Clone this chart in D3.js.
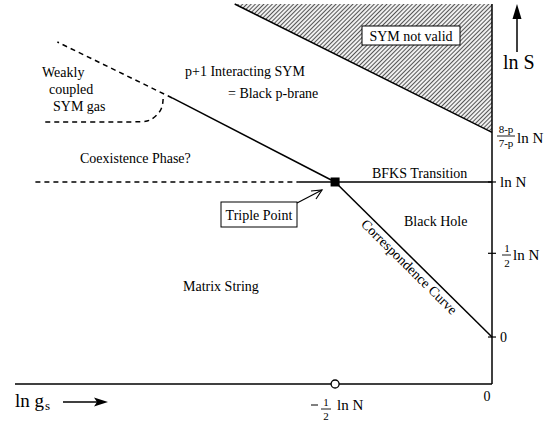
<!DOCTYPE html>
<html><head><meta charset="utf-8">
<script src="https://cdn.jsdelivr.net/npm/d3@7"></script>
<style>
body{margin:0;background:#fff;}
</style></head>
<body><svg id="c" width="559" height="422"></svg>
<script>
// ---- data (units of ln N) ----
const xDomain = [-1.52, 0];
const yDomain = [-0.303, 2.148];
const yTickValues = [0, 0.54, 1];           // 0, 1/2 ln N, ln N (as drawn)
const xTickValues = [-0.5, 0];              // -1/2 ln N, 0
const symBoundary = [[-0.82, 2.148], [0, 1.32]];         // edge of "SYM not valid"
const upperSolid = [[-0.5, 1], [-1.019, 1.542]];
const upperDashed = [[-1.019, 1.542], [-1.385, 1.903]];
const weakCurve = [[-1.048, 1.535], [-1.051, 1.46], [-1.09, 1.39], [-1.12, 1.387], [-1.424, 1.387]];
const bfksDashed = [[-1.455, 1], [-0.618, 1]];
const bfksSolid = [[-0.618, 1], [0, 1]];
const correspondence = [[-0.5, 1], [0, 0]];
const triplePoint = [-0.5, 1];
const regionLabels = ["p+1 Interacting SYM", "= Black p-brane", "Coexistence Phase?", "BFKS Transition", "Black Hole", "Matrix String"];
const weakLabel = ["Weakly", "coupled", "SYM gas"];

const FONT = '"Liberation Serif", "Times New Roman"';
const svg = d3.select("#c");
const x = d3.scaleLinear().domain(xDomain).range([15, 492]);
const y = d3.scaleLinear().domain(yDomain).range([384, 4]);
const line = d3.line().x(d => x(d[0])).y(d => y(d[1]));

// hatch pattern
const defs = svg.append("defs");
const pat = defs.append("pattern").attr("id", "hatch").attr("patternUnits", "userSpaceOnUse")
  .attr("width", 3).attr("height", 3).attr("patternTransform", "rotate(45)");
pat.append("rect").attr("width", 3).attr("height", 3).attr("fill", "#f0f0f0");
pat.append("line").attr("x1", 0.5).attr("y1", 0).attr("x2", 0.5).attr("y2", 3).attr("stroke", "#555").attr("stroke-width", 1);

// shaded region
const poly = [symBoundary[0], [0, yDomain[1]], symBoundary[1]];
svg.append("path").attr("d", line(poly) + "Z").attr("fill", "url(#hatch)");
svg.append("path").attr("d", line(symBoundary)).attr("stroke", "#000").attr("stroke-width", 1.4).attr("fill", "none");

// axes
svg.append("line").attr("x1", x(0)).attr("x2", x(0)).attr("y1", y(yDomain[1])).attr("y2", y(yDomain[0])).attr("stroke", "#000").attr("stroke-width", 1.5);
svg.append("line").attr("x1", x(xDomain[0])).attr("x2", x(0)).attr("y1", y(yDomain[0])).attr("y2", y(yDomain[0])).attr("stroke", "#000").attr("stroke-width", 1.6);

// ticks on right axis
svg.selectAll(".yt").data(yTickValues).join("line")
  .attr("x1", x(0) - 4).attr("x2", x(0) + 4).attr("y1", d => y(d)).attr("y2", d => y(d))
  .attr("stroke", "#000").attr("stroke-width", 1.2);

// lines
const stroke = (sel, dash) => sel.attr("fill", "none").attr("stroke", "#000").attr("stroke-width", 1.5).attr("stroke-dasharray", dash || null);
stroke(svg.append("path").attr("d", line(upperSolid)));
stroke(svg.append("path").attr("d", line(upperDashed)), "5,4");
stroke(svg.append("path").attr("d", d3.line().x(d => x(d[0])).y(d => y(d[1])).curve(d3.curveBasis)(weakCurve)), "5,4");
stroke(svg.append("path").attr("d", line(bfksDashed)), "5,4");
stroke(svg.append("path").attr("d", line(bfksSolid)));
stroke(svg.append("path").attr("d", line(correspondence)));

// triple point
svg.append("rect").attr("x", x(triplePoint[0]) - 4.5).attr("y", y(triplePoint[1]) - 4.5).attr("width", 9).attr("height", 9).attr("fill", "#000");

// circle on x axis
svg.append("circle").attr("cx", x(xTickValues[0])).attr("cy", y(yDomain[0])).attr("r", 4).attr("fill", "#fff").attr("stroke", "#000").attr("stroke-width", 1.3);

// labels
const fs = 14;
const T = (tx, ty, s, size, anchor) => svg.append("text").attr("x", tx).attr("y", ty)
  .style("font-family", FONT).style("font-size", (size || fs) + "px")
  .attr("text-anchor", anchor || "start").attr("fill", "#000").text(s);
T(185, 76, regionLabels[0]);
T(228, 98, regionLabels[1]);
T(80, 163, regionLabels[2]);
T(372, 178, regionLabels[3]);
T(404, 226, regionLabels[4]);
T(183, 291, regionLabels[5]);
T(42, 77, weakLabel[0]);
T(49, 94, weakLabel[1]);
T(53, 111, weakLabel[2]);

// SYM not valid box
svg.append("rect").attr("x", 362).attr("y", 26).attr("width", 98).attr("height", 19).attr("fill", "#fff").attr("stroke", "#000").attr("stroke-width", 1);
T(411, 41, "SYM not valid", fs, "middle");

// Triple point box + arrow
svg.append("rect").attr("x", 221).attr("y", 202).attr("width", 76).attr("height", 25).attr("fill", "#fff").attr("stroke", "#000").attr("stroke-width", 1);
T(259, 220, "Triple Point", fs, "middle");
svg.append("line").attr("x1", 297).attr("y1", 203).attr("x2", 322).attr("y2", 190).attr("stroke", "#000").attr("stroke-width", 1.2);
svg.append("path").attr("d", "M311,191 L322,190 L316,199").attr("fill", "none").attr("stroke", "#000").attr("stroke-width", 1.2);

// correspondence curve label
{
  const [a, b] = correspondence;
  const x1 = x(a[0]), y1 = y(a[1]), x2 = x(b[0]), y2 = y(b[1]);
  const ang = Math.atan2(y2 - y1, x2 - x1) * 180 / Math.PI;
  const mx = (x1 + x2) / 2 + 3, my = (y1 + y2) / 2;
  svg.append("text").attr("transform", `translate(${mx},${my}) rotate(${ang})`).attr("y", 15)
    .style("font-family", FONT).style("font-size", fs + "px")
    .attr("text-anchor", "middle").attr("fill", "#000").text("Correspondence Curve");
}

// right axis labels
T(500, 342, "0", 14);
T(507, 252, "1", 11, "middle");
svg.append("line").attr("x1", 502).attr("x2", 511).attr("y1", 255).attr("y2", 255).attr("stroke", "#000").attr("stroke-width", 0.9);
T(507, 267, "2", 11, "middle");
T(513, 260, "ln N", 15);
T(500, 187, "ln N", 15);
T(506, 133, "8-p", 11, "middle");
svg.append("line").attr("x1", 497).attr("x2", 515).attr("y1", 136).attr("y2", 136).attr("stroke", "#000").attr("stroke-width", 0.9);
T(506, 147, "7-p", 11, "middle");
T(517, 143, "ln N", 15);

// x axis labels
T(487, 401, "0", 14, "middle");
svg.append("line").attr("x1", 311).attr("x2", 318).attr("y1", 405).attr("y2", 405).attr("stroke", "#000").attr("stroke-width", 1);
T(326, 406, "1", 11, "middle");
svg.append("line").attr("x1", 321).attr("x2", 331).attr("y1", 409).attr("y2", 409).attr("stroke", "#000").attr("stroke-width", 0.9);
T(326, 420, "2", 11, "middle");
T(337, 410, "ln N", 15);

// axis titles
T(503, 69, "ln S", 20);
svg.append("line").attr("x1", 517).attr("x2", 517).attr("y1", 52).attr("y2", 16).attr("stroke", "#000").attr("stroke-width", 1.5);
svg.append("path").attr("d", "M517,4 L521.5,19 L512.5,19 Z").attr("fill", "#000");
const g = svg.append("text").attr("x", 15).attr("y", 407).style("font-family", FONT).style("font-size", "19px").attr("fill", "#000");
g.append("tspan").text("ln g");
g.append("tspan").style("font-size", "13px").attr("dy", 3).attr("dx", 1).text("s");
svg.append("line").attr("x1", 63).attr("x2", 98).attr("y1", 402).attr("y2", 402).attr("stroke", "#000").attr("stroke-width", 1.5);
svg.append("path").attr("d", "M108,402 L94,397.5 L97,402 L94,406.5 Z").attr("fill", "#000");
</script></body></html>
